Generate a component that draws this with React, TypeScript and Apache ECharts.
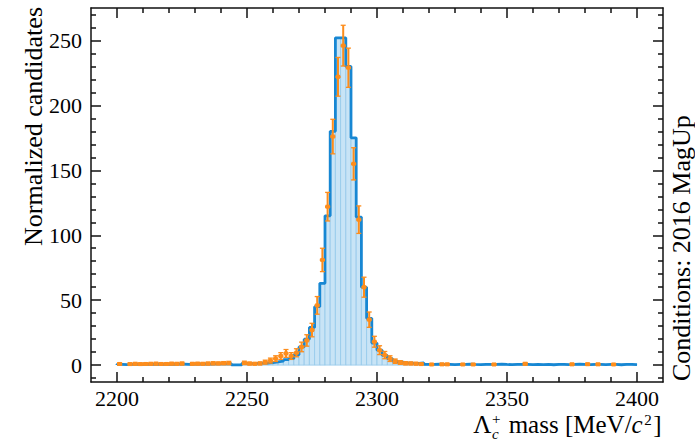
import React, { useEffect, useRef } from "react";
import * as echarts from "echarts";

// Histogram binning (2 MeV bins from 2200 to 2400)
const BIN_START = 2200;
const BIN_WIDTH = 2;

// Simulation histogram (blue), one value per bin
const mcCounts = [
  0.6, 0.3, 0.6, 0.5, 0.7, 0.6, 0.5, 0.8, 0.6, 0.7,
  0.6, 0.8, 0.7, 0.6, 0.7, 0.8, 0.9, 0.8, 1.0, 1.1,
  1.0, 1.2, 0.2, 0.3, 1.3, 1.2, 1.4, 1.6, 1.5, 2.0,
  2.5, 3.0, 4.2, 5.0, 8.0, 14, 20, 29, 45, 63,
  115, 180, 252, 252, 230, 175, 114, 60, 36, 17,
  11.5, 7.5, 5.0, 3.0, 2.2, 1.8, 1.5, 1.4, 1.8, 0.6,
  0.5, 0.7, 0.5, 0.6, 0.4, 0.6, 0.5, 0.7, 0.5, 0.4,
  0.6, 0.5, 0.5, 0.7, 0.5, 0.4, 0.6, 0.5, 0.6, 0.4,
  0.5, 0.4, 0.5, 0.3, 0.5, 0.6, 0.4, 0.5, 0.7, 0.5,
  0.4, 0.6, 0.5, 0.4, 0.6, 0.5, 0.3, 0.5, 0.6, 0.4,
];

// Data points (orange), one value per bin, null = no point
const dataCounts = [
  0.9, null, 0.8, 1.0, 0.8, 0.9, 1.0, 1.1, 0.9, 0.9,
  1.1, 1.0, 1.2, null, 1.0, 1.1, 1.0, 1.2, 1.4, 1.3,
  1.5, 1.6, null, null, 1.7, 1.2, 1.0, 1.3, 2.3, 3.5,
  5.0, 7.0, 9.0, 7.0, 9.5, 14, 19, 27, 46, 81,
  122, 176, 222, 246, 229, 155, 112, 60, 35, 18,
  11.5, 7.7, 5.0, 3.0, 2.0, 1.4, 1.3, 1.1, 0.8, null,
  0.5, null, 0.6, 0.6, null, null, 0.5, null, 0.5, null,
  null, null, 0.5, null, null, null, null, null, 1.0, null,
  null, null, null, null, null, null, null, 0.6, null, null,
  0.7, null, 0.6, null, null, 0.5, null, null, null, null,
];

// Vertical uncertainties of the data points
const dataErrors = [
  0.9, null, 0.9, 1.0, 0.9, 0.9, 1.0, 1.0, 0.9, 0.9,
  1.0, 1.0, 1.1, null, 1.0, 1.0, 1.0, 1.1, 1.2, 1.1,
  1.2, 1.3, null, null, 1.3, 1.1, 1.0, 1.1, 1.5, 1.9,
  2.2, 2.6, 3.0, 2.6, 3.1, 3.7, 4.4, 5.2, 6.8, 9.0,
  11, 13.3, 14.9, 15.7, 15.1, 12.4, 10.6, 7.7, 5.9, 4.2,
  3.4, 2.8, 2.2, 1.7, 1.4, 1.2, 1.1, 1.0, 0.9, null,
  0.7, null, 0.8, 0.8, null, null, 0.7, null, 0.7, null,
  null, null, 0.7, null, null, null, null, null, 1.0, null,
  null, null, null, null, null, null, null, 0.8, null, null,
  0.8, null, 0.8, null, null, 0.7, null, null, null, null,
];

const xMajorTicks = [2200, 2250, 2300, 2350, 2400];
const xMinorTicks = [2210, 2220, 2230, 2240, 2260, 2270, 2280, 2290, 2310, 2320, 2330, 2340, 2360, 2370, 2380, 2390];
const yMajorTicks = [0, 50, 100, 150, 200, 250];
const yMinorTicks = [-10, 10, 20, 30, 40, 60, 70, 80, 90, 110, 120, 130, 140, 160, 170, 180, 190, 210, 220, 230, 240, 260, 270];

const X_MIN = 2190;
const X_MAX = 2410;
const Y_MIN = -13;
const Y_MAX = 275;

const FONT = '"Liberation Serif", "Times New Roman", serif';
const INK = "#111";
const BLUE = "#1787d3";
const FILL = "#c8e4f6";
const FILL_EDGE = "#93c8ea";
const ORANGE = "#fd8d1c";

export default function App() {
  const ref = useRef<HTMLDivElement>(null);

  useEffect(() => {
    document.body.style.margin = "0";
    if (!ref.current) return;
    const chart = echarts.init(ref.current, null, { renderer: "svg" });

    const histData = mcCounts.map((v, i) => [
      BIN_START + i * BIN_WIDTH,
      BIN_START + (i + 1) * BIN_WIDTH,
      v,
    ]);

    const stepData: number[][] = [[BIN_START, 0]];
    mcCounts.forEach((v, i) => stepData.push([BIN_START + i * BIN_WIDTH, v]));
    const lastEdge = BIN_START + mcCounts.length * BIN_WIDTH;
    stepData.push([lastEdge, mcCounts[mcCounts.length - 1]]);
    stepData.push([lastEdge, 0]);

    const pointData: number[][] = [];
    dataCounts.forEach((v, i) => {
      if (v === null) return;
      const lo = BIN_START + i * BIN_WIDTH;
      pointData.push([lo + BIN_WIDTH / 2, v as number, dataErrors[i] as number, lo, lo + BIN_WIDTH]);
    });

    // x-axis title pieces
    const ctx = document.createElement("canvas").getContext("2d")!;
    const meas = (t: string, size: number, italic = false) => {
      ctx.font = `${italic ? "italic " : ""}${size}px ${FONT}`;
      return ctx.measureText(t).width;
    };
    const F = 25;
    const S = 15;
    const base = 433;
    const mid = (size: number, shift = 0) => base + shift - 0.34 * size;
    const wL = meas("Λ", F);
    const wSS = Math.max(meas("c", S, true), meas("+", S)) + 2;
    const wMid = meas(" mass [MeV/", F);
    const wC = meas("c", F, true) + 1.5;
    const w2 = meas("2", S) + 1.5;
    const wB = meas("]", F);
    const total = wL + wSS + wMid + wC + w2 + wB;
    let cx = 661 - total;
    const txt = (text: string, x: number, y: number, size: number, italic = false, lh = 0.85) => ({
      type: "text",
      x,
      y,
      silent: true,
      style: {
        text,
        fontSize: size,
        lineHeight: Math.round(size * lh),
        fontFamily: FONT,
        fontStyle: italic ? "italic" : "normal",
        fill: "#000",
        align: "left",
        verticalAlign: "middle",
      },
    });
    const titleEls: any[] = [];
    titleEls.push(txt("Λ", cx, mid(F), F));
    cx += wL + 0.5;
    titleEls.push(txt("c", cx, mid(S, 6), S, true, 0.75));
    titleEls.push(txt("+", cx, mid(S, -8.5), S, false, 0.75));
    cx += wSS;
    titleEls.push(txt(" mass [MeV/", cx, mid(F), F));
    cx += wMid;
    titleEls.push(txt("c", cx, mid(F), F, true));
    cx += wC;
    titleEls.push(txt("2", cx, mid(S, -8), S, false, 0.75));
    cx += w2;
    titleEls.push(txt("]", cx, mid(F), F));

    const lineStyle = { color: INK, width: 1.5 };
    const mkX = (position: string, major: boolean, labels: boolean) => ({
      type: "value",
      position,
      min: X_MIN,
      max: X_MAX,
      splitLine: { show: false },
      axisLine: { show: major, onZero: false, lineStyle },
      axisTick: {
        show: true,
        inside: true,
        length: major ? 10 : 5,
        customValues: major ? xMajorTicks : xMinorTicks,
        lineStyle,
      },
      axisLabel: labels
        ? {
            show: true,
            customValues: xMajorTicks,
            formatter: (v: number) => String(v),
            margin: 6,
            lineHeight: 20,
            fontFamily: FONT,
            fontSize: 22,
            color: "#000",
          }
        : { show: false },
    });
    const mkY = (position: string, major: boolean, labels: boolean) => ({
      type: "value",
      position,
      min: Y_MIN,
      max: Y_MAX,
      splitLine: { show: false },
      axisLine: { show: major, onZero: false, lineStyle },
      axisTick: {
        show: true,
        inside: true,
        length: major ? 10 : 5,
        customValues: major ? yMajorTicks : yMinorTicks,
        lineStyle,
      },
      axisLabel: labels
        ? {
            show: true,
            customValues: yMajorTicks,
            formatter: (v: number) => String(v),
            margin: 9,
            fontFamily: FONT,
            fontSize: 22,
            color: "#000",
          }
        : { show: false },
    });

    const option: any = {
      animation: false,
      backgroundColor: "#fff",
      grid: { left: 91, right: 32, top: 8, bottom: 64, containLabel: false, outerBoundsMode: "none" },
      xAxis: [mkX("bottom", true, true), mkX("bottom", false, false), mkX("top", true, false), mkX("top", false, false)],
      yAxis: [mkY("left", true, true), mkY("left", false, false), mkY("right", true, false), mkY("right", false, false)],
      series: [
        {
          type: "custom",
          xAxisIndex: 0,
          yAxisIndex: 0,
          z: 1,
          clip: true,
          encode: { x: [0, 1], y: 2 },
          data: histData,
          renderItem: (_p: any, api: any) => {
            const p0 = api.coord([api.value(0), 0]);
            const p1 = api.coord([api.value(1), api.value(2)]);
            return {
              type: "rect",
              shape: { x: p0[0], y: p1[1], width: p1[0] - p0[0], height: p0[1] - p1[1] },
              style: { fill: FILL, stroke: FILL_EDGE, lineWidth: 0.8 },
            };
          },
        },
        {
          type: "line",
          xAxisIndex: 0,
          yAxisIndex: 0,
          z: 3,
          step: "end",
          symbol: "none",
          data: stepData,
          lineStyle: { color: BLUE, width: 2.8 },
        },
        {
          type: "custom",
          xAxisIndex: 0,
          yAxisIndex: 0,
          z: 5,
          encode: { x: 0, y: 1 },
          data: pointData,
          renderItem: (_p: any, api: any) => {
            const x = api.value(0);
            const v = api.value(1);
            const e = api.value(2);
            const c = api.coord([x, v]);
            const top = api.coord([x, v + e]);
            const bot = api.coord([x, v - e]);
            const lo = api.coord([api.value(3), v]);
            const hi = api.coord([api.value(4), v]);
            const st = { stroke: ORANGE, lineWidth: 2 };
            return {
              type: "group",
              children: [
                { type: "line", shape: { x1: c[0], y1: top[1], x2: c[0], y2: bot[1] }, style: st },
                { type: "line", shape: { x1: c[0] - 2.5, y1: top[1], x2: c[0] + 2.5, y2: top[1] }, style: { stroke: ORANGE, lineWidth: 1.3 } },
                { type: "line", shape: { x1: c[0] - 2.5, y1: bot[1], x2: c[0] + 2.5, y2: bot[1] }, style: { stroke: ORANGE, lineWidth: 1.3 } },
                { type: "line", shape: { x1: lo[0], y1: c[1], x2: hi[0], y2: c[1] }, style: { stroke: ORANGE, lineWidth: 2.4 } },
                { type: "rect", shape: { x: c[0] - 2, y: c[1] - 2, width: 4, height: 4 }, style: { fill: ORANGE } },
              ],
            };
          },
        },
      ],
      graphic: [
        ...titleEls,
        {
          type: "text",
          x: 33,
          y: 7,
          rotation: Math.PI / 2,
          silent: true,
          style: {
            text: "Normalized candidates",
            fontSize: 26,
            fontFamily: FONT,
            fill: "#000",
            align: "right",
            verticalAlign: "middle",
          },
        },
        {
          type: "text",
          x: 681,
          y: 381,
          rotation: Math.PI / 2,
          silent: true,
          style: {
            text: "Conditions: 2016 MagUp",
            fontSize: 26,
            fontFamily: FONT,
            fill: "#000",
            align: "left",
            verticalAlign: "middle",
          },
        },
      ],
    };

    chart.setOption(option);
    return () => chart.dispose();
  }, []);

  return <div ref={ref} style={{ width: 695, height: 446 }} />;
}
